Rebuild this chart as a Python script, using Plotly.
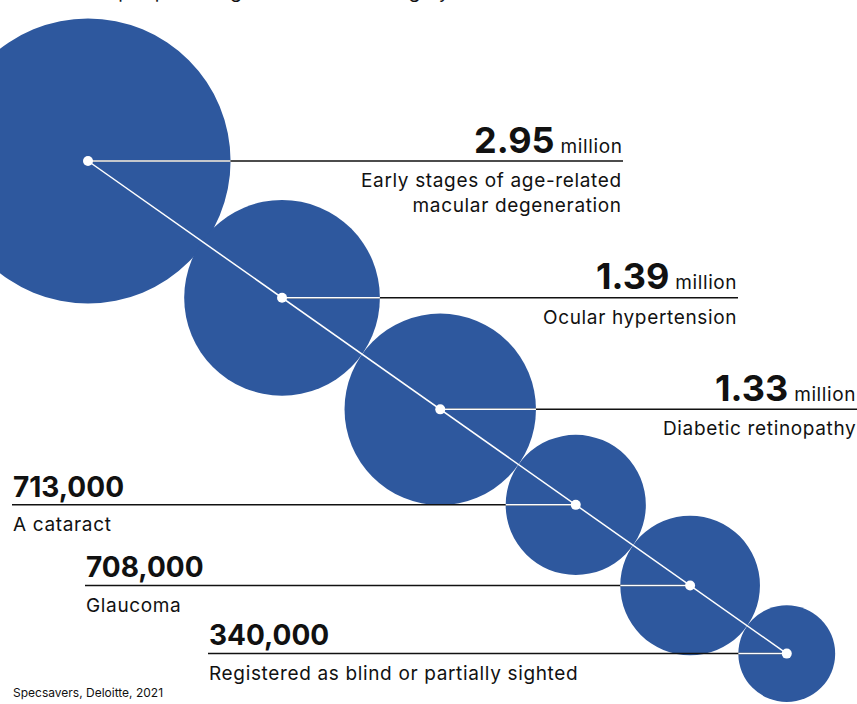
import math
import plotly.graph_objects as go

# Estimated number of people with each eye condition (UK, 2021)
conditions = [
    ["Early stages of age-related", "macular degeneration"],
    ["Ocular hypertension"],
    ["Diabetic retinopathy"],
    ["A cataract"],
    ["Glaucoma"],
    ["Registered as blind or partially sighted"],
]
people = [2_950_000, 1_390_000, 1_330_000, 713_000, 708_000, 340_000]
value_text = ["2.95", "1.39", "1.33", "713,000", "708,000", "340,000"]
in_millions = [True, True, True, False, False, False]
label_side = ["right", "right", "right", "left", "left", "left"]

# ---- layout constants -------------------------------------------------
W, H = 857, 704
BLUE = "#2E589E"
INK = "#111111"
FONT = "Inter"
PX_PER_ROOT_MILLION = 83.0          # circle radius = k * sqrt(millions)
START = (88.0, 161.0)               # centre of the first (largest) bubble
SLOPE = 0.705                       # direction of the chain of bubbles
label_ends = [623, 738, 857, 12, 85, 208]  # where each leader line stops


def tracked(s, px):
    """Wrap text in a span with a little extra letter spacing."""
    return f"<span style='letter-spacing:{px}px'>{s}</span>"


# radii scale with area, bubbles are chained tangent along the diagonal
radii = [PX_PER_ROOT_MILLION * math.sqrt(v / 1e6) for v in people]
ux, uy = 1 / math.hypot(1, SLOPE), SLOPE / math.hypot(1, SLOPE)
cx, cy = [START[0]], [START[1]]
for i in range(1, len(people)):
    d = radii[i - 1] + radii[i] - (3 if i == 1 else 0)
    cx.append(cx[-1] + ux * d)
    cy.append(cy[-1] + uy * d)

shapes = []
annotations = []

# bubbles
for x, y, r in zip(cx, cy, radii):
    shapes.append(dict(type="circle", xref="x", yref="y", layer="below",
                       x0=x - r, x1=x + r, y0=y - r, y1=y + r,
                       fillcolor=BLUE, line=dict(width=0)))

# leader lines: dark outside the bubble, white inside it
for i in range(len(people)):
    x, y, r, end = cx[i], cy[i], radii[i], label_ends[i]
    shapes.append(dict(type="line", xref="x", yref="y", layer="below",
                       x0=x, x1=end, y0=y, y1=y,
                       line=dict(color=INK, width=1.5)))
    edge = x + r if label_side[i] == "right" else x - r
    shapes.append(dict(type="line", xref="x", yref="y", layer="below",
                       x0=x, x1=edge, y0=y, y1=y,
                       line=dict(color="white", width=1.5)))

    if in_millions[i]:
        head = (f"<b>{value_text[i]}</b>"
                f"<span style='font-size:19px;letter-spacing:0.6px'> million</span>")
        size = 36
    else:
        head = f"<b>{value_text[i]}</b>"
        size = 28
    anchor = "right" if label_side[i] == "right" else "left"
    annotations.append(dict(x=end, y=y - 7 + size * 0.24, xref="x", yref="y",
                            text=head, showarrow=False, xanchor=anchor,
                            yanchor="bottom", borderpad=0,
                            font=dict(family=FONT, size=size, color=INK)))
    body = "<br>".join(tracked(line, 0.65) for line in conditions[i])
    annotations.append(dict(x=end, y=y + 7, xref="x", yref="y",
                            text=body, showarrow=False,
                            xanchor=anchor, yanchor="top", align=anchor,
                            borderpad=0,
                            font=dict(family=FONT, size=19, color=INK)))

# heading (runs off the top edge) and source
annotations.append(dict(x=8, y=4.2, xref="x", yref="y",
                        text=tracked("Number of people living with the following eye conditions in the UK", 0.8),
                        showarrow=False, xanchor="left", yanchor="bottom",
                        borderpad=0, font=dict(family=FONT, size=19, color=INK)))
annotations.append(dict(x=12, y=701, xref="x", yref="y",
                        text="Specsavers, Deloitte, 2021",
                        showarrow=False, xanchor="left", yanchor="bottom",
                        borderpad=0, font=dict(family=FONT, size=12, color=INK)))

fig = go.Figure()
# diagonal connector with the bubble centres
fig.add_trace(go.Scatter(x=cx, y=cy, mode="lines+markers",
                         line=dict(color="white", width=1.5),
                         marker=dict(color="white", size=10),
                         hoverinfo="skip", cliponaxis=False))

fig.update_layout(
    width=W, height=H, margin=dict(l=0, r=0, t=0, b=0),
    paper_bgcolor="white", plot_bgcolor="white",
    showlegend=False, shapes=shapes, annotations=annotations,
    xaxis=dict(range=[0, W], visible=False, fixedrange=True),
    yaxis=dict(range=[H, 0], visible=False, fixedrange=True),
)
fig.write_html("out.html")
